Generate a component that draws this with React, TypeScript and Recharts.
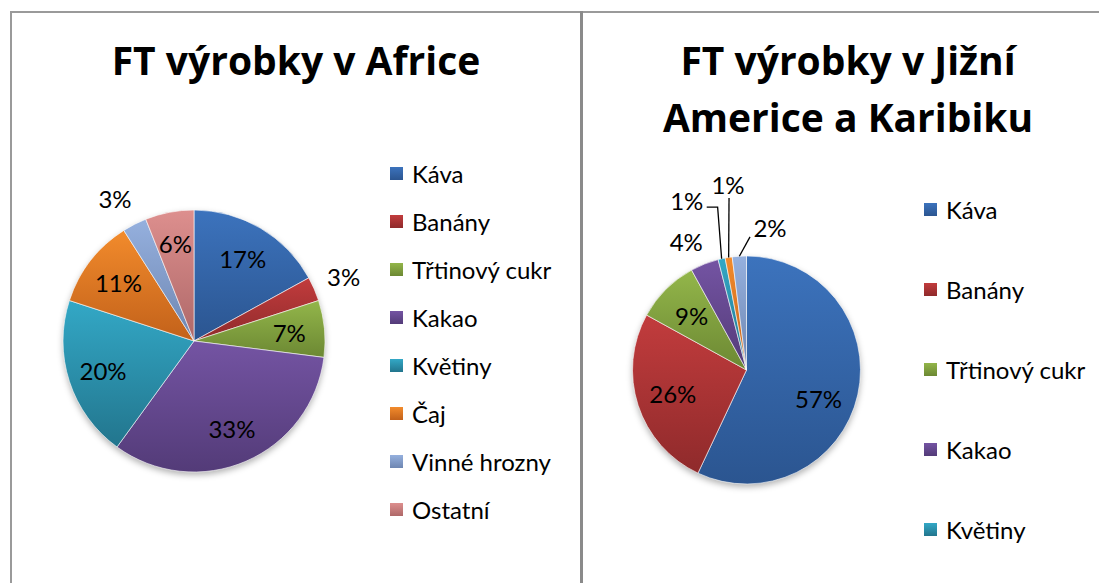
import { PieChart, Pie, Cell, Legend } from "recharts";

const AF_NAMES = ["Káva", "Banány", "Třtinový cukr", "Kakao", "Květiny", "Čaj", "Vinné hrozny", "Ostatní"];
const AF_VALUES = [17, 3, 7, 33, 20, 11, 3, 6];

const SA_NAMES = ["Káva", "Banány", "Třtinový cukr", "Kakao", "Květiny", "Čaj", "Vinné hrozny"];
const SA_VALUES = [57, 26, 9, 4, 1, 1, 2];

// gradient top / bottom per category
const TOP = ["#3c73bd", "#c23c3d", "#93b64a", "#7454a3", "#33a8c6", "#f28b2c", "#95b0de", "#dd8f8e"];
const BOTTOM = ["#2b5590", "#8f2a2b", "#6c8833", "#533b78", "#22758d", "#c2611a", "#6e86b1", "#ae6868"];

const FONT = "Lato, 'Open Sans', sans-serif";
const TITLE_FONT = "'Open Sans', Lato, sans-serif";
const RAD = Math.PI / 180;

const afData = AF_NAMES.map((name, i) => ({ name, value: AF_VALUES[i] }));
const saData = SA_NAMES.map((name, i) => ({ name, value: SA_VALUES[i] }));
const afShadow = [{ name: "shadow", value: AF_VALUES.reduce((a, b) => a + b, 0) }];
const saShadow = [{ name: "shadow", value: SA_VALUES.reduce((a, b) => a + b, 0) }];

// label placement: inside / outside, outside ones get extra radius + angle nudge (deg, clockwise)
const AF_LABELS: any[] = [
  { mode: "in" }, { mode: "out", extra: 32, nudge: 0 }, { mode: "in" }, { mode: "in" },
  { mode: "in" }, { mode: "in" }, { mode: "out", extra: 32, nudge: -2 }, { mode: "in", k: 0.76 },
];
const SA_LABELS: any[] = [
  { mode: "in", nudge: 9 }, { mode: "in" }, { mode: "in" },
  { mode: "out", extra: 28, nudge: -3.5 },
  { mode: "out", extra: 66, nudge: -6.8, leader: "elbow" },
  { mode: "out", extra: 72, nudge: 3.3, leader: "straight" },
  { mode: "out", extra: 30, nudge: 13, leader: "diag" },
];

function polar(cx: number, cy: number, r: number, midAngle: number) {
  return { x: cx + r * Math.cos(-midAngle * RAD), y: cy + r * Math.sin(-midAngle * RAD) };
}

function makeLabel(layout: any[], inside: number) {
  return (props: any) => {
    const { cx, cy, midAngle, outerRadius, index, value } = props;
    const cfg = layout[index];
    const text = `${value}%`;
    if (cfg.mode === "in") {
      const p = polar(cx, cy, outerRadius * (cfg.k || inside), midAngle - (cfg.nudge || 0));
      return (
        <text x={p.x} y={p.y} textAnchor="middle" dominantBaseline="central" fontSize={24} fontFamily={FONT} fill="#000">
          {text}
        </text>
      );
    }
    const p = polar(cx, cy, outerRadius + cfg.extra, midAngle - cfg.nudge);
    const e = polar(cx, cy, outerRadius, midAngle);
    let line = null;
    if (cfg.leader === "elbow") {
      line = `M${p.x + 20},${p.y + 7} L${e.x - 4},${p.y + 7} L${e.x},${e.y}`;
    } else if (cfg.leader === "straight") {
      line = `M${p.x + 1},${p.y + 13} L${e.x},${e.y}`;
    } else if (cfg.leader === "diag") {
      line = `M${p.x - 20},${p.y + 9} L${e.x},${e.y}`;
    }
    return (
      <g>
        {line && <path d={line} stroke="#000" strokeWidth={1.3} fill="none" />}
        <text x={p.x} y={p.y} textAnchor="middle" dominantBaseline="central" fontSize={24} fontFamily={FONT} fill="#000">
          {text}
        </text>
      </g>
    );
  };
}

function makeLegend(names: string[], rowHeight: number, maxItems: number) {
  return (props: any) => {
    const items = [...(props.payload || [])]
      .filter((a: any) => names.indexOf(a.value) >= 0)
      .sort((a: any, b: any) => names.indexOf(a.value) - names.indexOf(b.value))
      .slice(0, maxItems);
    return (
      <div>
        {items.map((it: any) => {
          const k = names.indexOf(it.value);
          return (
            <div key={it.value} style={{ height: rowHeight, display: "flex", alignItems: "center" }}>
              <div
                style={{
                  width: 13,
                  height: 13,
                  marginRight: 9,
                  background: `linear-gradient(${TOP[k]}, ${BOTTOM[k]})`,
                }}
              />
              <span style={{ fontFamily: FONT, fontSize: 24, color: "#000" }}>{it.value}</span>
            </div>
          );
        })}
      </div>
    );
  };
}

function Defs({ prefix }: { prefix: string }) {
  return (
    <defs>
      {TOP.map((c, i) => (
        <linearGradient key={i} id={`${prefix}${i}`} x1="0" y1="0" x2="0" y2="1">
          <stop offset="0%" stopColor={c} />
          <stop offset="100%" stopColor={BOTTOM[i]} />
        </linearGradient>
      ))}
      <filter id={`${prefix}blur`} x="-20%" y="-20%" width="140%" height="140%">
        <feGaussianBlur stdDeviation="3" />
      </filter>
    </defs>
  );
}

const titleStyle: any = {
  position: "absolute",
  fontFamily: TITLE_FONT,
  fontWeight: 700,
  fontSize: 39,
  lineHeight: "57px",
  textAlign: "center",
  color: "#000",
  whiteSpace: "nowrap",
};

export default function App() {
  return (
    <div style={{ position: "absolute", left: 0, top: 0, width: 1099, height: 583, background: "#fff", overflow: "hidden" }}>
      {/* frame */}
      <div style={{ position: "absolute", left: 10, top: 11, width: 1089, height: 2, background: "#9a9a9a" }} />
      <div style={{ position: "absolute", left: 10, top: 11, width: 2, height: 572, background: "#9a9a9a" }} />
      <div style={{ position: "absolute", left: 580, top: 11, width: 3, height: 572, background: "#8a8a8a" }} />

      {/* Afrika */}
      <div style={{ position: "absolute", left: 12, top: 13 }}>
        <PieChart width={566} height={570} margin={{ top: 0, right: 0, bottom: 0, left: 0 }}>
          <Defs prefix="af" />
          <Pie
            data={afShadow}
            dataKey="value"
            cx={182}
            cy={331}
            outerRadius={131}
            legendType="none"
            stroke="none"
            isAnimationActive={false}
          >
            <Cell fill="rgba(0,0,0,0.3)" filter="url(#afblur)" />
          </Pie>
          <Pie
            data={afData}
            dataKey="value"
            nameKey="name"
            cx={182}
            cy={328}
            outerRadius={131}
            startAngle={90}
            endAngle={-270}
            stroke="#ffffff"
            strokeWidth={0.6}
            label={makeLabel(AF_LABELS, 0.73)}
            labelLine={false}
            isAnimationActive={false}
          >
            {afData.map((_, i) => (
              <Cell key={i} fill={`url(#af${i})`} />
            ))}
          </Pie>
          <Legend
            layout="vertical"
            content={makeLegend(AF_NAMES, 48, 8)}
            wrapperStyle={{ position: "absolute", left: 378, top: 136, width: 190 }}
          />
        </PieChart>
      </div>
      <div style={{ ...titleStyle, left: 12, width: 568, top: 31 }}>FT výrobky v Africe</div>

      {/* Jižní Amerika */}
      <div style={{ position: "absolute", left: 583, top: 13 }}>
        <PieChart width={516} height={570} margin={{ top: 0, right: 0, bottom: 0, left: 0 }}>
          <Defs prefix="sa" />
          <Pie
            data={saShadow}
            dataKey="value"
            cx={163.5}
            cy={360}
            outerRadius={114}
            legendType="none"
            stroke="none"
            isAnimationActive={false}
          >
            <Cell fill="rgba(0,0,0,0.3)" filter="url(#sablur)" />
          </Pie>
          <Pie
            data={saData}
            dataKey="value"
            nameKey="name"
            cx={163.5}
            cy={357}
            outerRadius={114}
            startAngle={90}
            endAngle={-270}
            stroke="#ffffff"
            strokeWidth={0.6}
            label={makeLabel(SA_LABELS, 0.68)}
            labelLine={false}
            isAnimationActive={false}
          >
            {saData.map((_, i) => (
              <Cell key={i} fill={`url(#sa${i})`} />
            ))}
          </Pie>
          <Legend
            layout="vertical"
            content={makeLegend(SA_NAMES, 80, 5)}
            wrapperStyle={{ position: "absolute", left: 341, top: 156, width: 175 }}
          />
        </PieChart>
      </div>
      <div style={{ ...titleStyle, left: 583, width: 530, top: 31 }}>
        FT výrobky v Jižní
        <br />
        Americe a Karibiku
      </div>
    </div>
  );
}
